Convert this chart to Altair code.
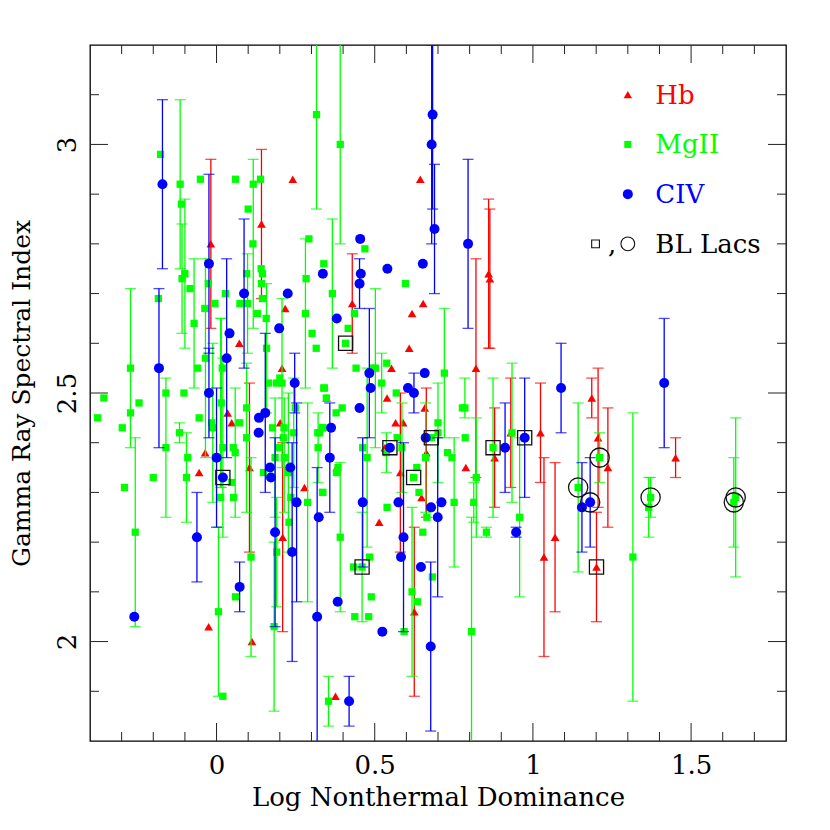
import altair as alt
import pandas as pd

FONT = "DejaVu Serif"
RED, GREEN, BLUE = "#ff0000", "#00ff00", "#0000ff"

red_x = [-.018,.142,.241,.072,.217,.207,.035,.048,-.036,-.055,.104,.201,.209,.278,-.025,.112,.644,.429,.86,.864,.618,.653,.609,.553,.82,.539,.566,.59,.658,.663,.581,.532,.648,.514,.625,.376,.348,.788,.879,.93,1.024,1.035,.38,1.07,1.186,1.206,1.237,1.201,1.451]
red_y = [2.80,2.84,2.93,2.60,2.67,2.55,2.46,2.44,2.38,2.34,2.35,2.44,2.21,2.31,2.03,2.00,2.93,2.68,2.74,2.73,2.66,2.68,2.59,2.55,2.55,2.49,2.44,2.44,2.47,2.38,2.34,2.39,2.29,2.24,2.06,1.89,2.49,2.35,2.37,2.42,2.42,2.17,2.35,2.21,2.49,2.41,2.35,2.15,2.37]
red_bx = [-.018,.142,.104,.209,.429,.86,.864,.82,.663,.581,.625,.879,.93,1.024,1.035,1.07,1.186,1.206,1.237,1.201,1.451]
red_hi = [2.97,2.99,2.52,2.40,2.78,2.89,2.87,2.77,2.51,2.50,2.23,2.47,2.53,2.52,2.37,2.36,2.53,2.55,2.47,2.26,2.41]
red_lo = [2.63,2.69,2.18,2.02,2.58,2.59,2.59,2.33,2.25,2.18,1.89,2.27,2.31,2.32,1.97,2.06,2.45,2.27,2.23,2.04,2.33]

green_x = [.316,-.177,-.115,-.051,.06,.139,.116,-.1,-.109,-.111,.1,.115,.292,.283,.281,.141,.145,.142,.095,.098,.074,-.005,-.037,-.035,-.026,-.084,.028,-.184,-.071,.129,.158,.157,.145,.302,.315,-.06,-.272,.018,-.16,-.16,-.103,.165,.19,.2,.207,.339,.339,
  -.356,-.245,-.272,-.376,-.298,-.117,-.055,.015,-.015,-.013,.073,.095,.095,.02,.053,.059,-.091,-.095,-.2,-.291,-.257,.013,.054,.048,.006,.02,.06,.109,.19,.182,.177,.213,.244,.211,.197,.185,.214,.148,.227,.229,.235,.288,.321,.326,.336,.336,.249,
  .391,.469,.366,.597,.436,.416,.408,.441,.502,.494,.538,.522,.568,.72,.341,.347,.378,.397,.335,.32,.384,.379,.335,.391,.354,.462,.476,.539,.537,.571,.586,.633,.623,.64,.652,.665,.661,.7,.7,.679,.751,.73,.744,.777,.785,.786,.821,.813,.806,.853,.874,.934,.958,.46,.433,.484,.489,.437,.481,.593,.618,.635,.682,
  1.143,1.211,1.316,1.372,1.366,1.641,1.635]
green_y = [3.06,2.98,2.92,2.93,2.93,2.93,2.92,2.74,2.73,2.88,2.87,2.80,2.81,2.73,2.66,2.75,2.74,2.72,2.74,2.68,2.68,2.68,2.67,2.57,2.72,2.71,2.70,2.69,2.64,2.66,2.59,2.65,2.69,2.62,2.59,2.55,2.55,2.55,2.50,2.39,2.50,2.52,2.52,2.53,2.52,2.51,2.76,
  2.49,2.48,2.46,2.45,2.43,2.42,2.45,2.48,2.44,2.43,2.44,2.47,2.41,2.39,2.39,2.38,2.37,2.33,2.33,2.31,2.22,2.29,2.29,2.32,2.06,1.89,2.09,2.17,2.18,2.03,2.43,2.43,2.42,2.41,2.39,2.37,2.37,2.34,2.34,2.24,2.29,2.28,2.39,2.42,2.43,2.30,2.47,
  3.00,2.79,2.70,2.72,2.66,2.63,2.60,2.55,2.55,2.55,2.56,2.52,2.50,2.54,2.51,2.49,2.46,2.47,2.43,2.42,2.35,2.34,2.30,2.21,1.88,2.39,2.37,2.27,2.38,2.41,2.39,2.35,2.33,2.30,2.22,2.25,2.37,2.42,2.44,2.41,2.28,2.38,2.37,2.47,2.47,2.41,2.33,2.28,2.02,2.22,2.39,2.42,2.25,2.15,2.15,2.17,2.09,2.05,2.05,2.02,2.10,2.08,2.13,
  2.31,2.37,2.17,2.29,2.27,2.29,2.28]
green_bx = [.316,-.115,.116,-.1,-.109,.281,.098,-.035,-.071,.158,-.272,-.16,.207,.013,
  -.117,.015,.02,.059,.095,-.095,-.257,.006,.109,.19,.182,.185,.214,.227,.244,.288,.321,-.012,
  .391,.366,.502,.522,.72,.391,.354,.476,.537,.586,.661,.7,.751,.785,.821,.813,.806,.853,.874,.934,.958,.46,.618,
  1.143,1.211,1.316,1.372,1.366,1.641,1.635]
green_hi = [3.25,3.09,2.97,2.89,2.84,2.81,2.78,2.77,2.77,2.72,2.71,2.53,2.69,2.65,
  2.44,2.65,2.57,2.51,2.56,2.42,2.41,2.23,2.37,2.29,2.20,2.49,2.49,2.50,2.53,2.48,2.46,2.60,
  3.25,2.85,2.71,2.58,2.67,2.36,1.93,2.55,2.42,2.48,2.48,2.52,2.41,2.53,2.45,2.32,2.25,2.23,2.53,2.56,2.41,2.26,2.27,
  2.48,2.42,2.46,2.33,2.33,2.45,2.37]
green_lo = [2.87,2.75,2.63,2.59,2.62,2.51,2.58,2.37,2.51,2.46,2.39,2.25,2.35,2.31,
  2.40,2.31,2.21,2.25,2.26,2.24,2.03,1.89,1.97,2.07,1.86,2.25,2.26,2.18,2.31,2.08,2.32,2.28,
  2.80,2.55,2.39,2.46,2.41,2.06,1.83,2.19,2.34,2.30,2.26,2.32,2.15,2.45,2.21,2.24,1.79,2.21,2.25,2.28,2.09,2.04,1.93,
  2.14,2.32,1.88,2.25,2.21,2.13,2.19]

blue_x = [-.171,-.182,-.024,.087,.032,.041,-.024,.225,.198,.154,.247,.253,.336,0,.02,-.062,.073,-.26,.134,.133,.169,.172,.185,.239,.233,.323,.318,
  .683,.68,.689,.795,.454,.456,.452,.54,.652,.38,.483,.487,.658,.605,.624,.452,.362,.358,.383,.419,.462,.524,.575,.548,.591,.583,.646,.678,.711,.699,.661,.677,.912,.974,.947,1.089,1.415,1.155,1.181]
blue_y = [2.92,2.55,2.76,2.70,2.57,2.62,2.50,2.70,2.63,2.46,2.52,2.28,2.74,2.37,2.33,2.21,2.11,2.05,2.45,2.42,2.35,2.33,2.22,2.18,2.35,2.25,2.05,
  3.06,3.00,2.83,2.80,2.81,2.74,2.72,2.75,2.76,2.65,2.54,2.51,2.54,2.51,2.50,2.47,2.43,2.37,2.08,1.88,2.28,2.02,2.28,2.39,2.21,2.17,2.15,2.27,2.28,2.25,2.41,1.99,2.39,2.41,2.22,2.51,2.52,2.27,2.28]
blue_bx = [-.171,-.182,-.024,.087,.032,-.024,.154,.247,.253,0,-.062,.073,.185,.239,.318,
  .683,.68,.689,.795,.452,.483,.624,.358,.419,.462,.591,.699,.677,.912,.974,.947,1.089,1.415,1.155,1.181]
blue_hi = [3.09,2.71,2.94,2.85,2.77,2.59,2.62,2.58,2.48,2.51,2.30,2.16,2.41,2.40,2.35,
  3.25,3.20,2.96,2.97,2.77,2.67,2.54,2.48,1.93,2.41,2.40,2.41,2.16,2.48,2.53,2.23,2.60,2.65,2.36,2.37]
blue_lo = [2.75,2.39,2.58,2.55,2.37,2.41,2.30,2.46,2.08,2.23,2.12,2.06,2.03,1.96,1.75,
  2.87,2.80,2.70,2.63,2.67,2.41,2.46,2.26,1.83,2.15,2.02,2.09,1.82,2.30,2.29,2.21,2.42,2.39,2.18,2.19]

square_x = [.02,.408,.548,.623,.679,.874,.974,.46,1.201]
square_y = [2.33,2.60,2.39,2.33,2.41,2.39,2.41,2.15,2.15]
circle_x = [1.143,1.181,1.211,1.372,1.635,1.641]
circle_y = [2.31,2.28,2.37,2.29,2.28,2.29]

legend_marks_x = [1.30, 1.30, 1.30]
legend_marks_y = [3.10, 3.00, 2.90]
legend_labels = ["Hb", "MgII", "CIV", "BL Lacs"]
legend_colors = [RED, GREEN, BLUE, "#000000"]
legend_text_x = [1.387, 1.387, 1.387, 1.387]
legend_text_y = [3.10, 3.00, 2.90, 2.80]

x_major = [0, 0.5, 1, 1.5]
x_minor = [-.3,-.2,-.1,.1,.2,.3,.4,.6,.7,.8,.9,1.1,1.2,1.3,1.4,1.6,1.7]
y_major = [2, 2.5, 3]
y_minor = [1.9,2.1,2.2,2.3,2.4,2.6,2.7,2.8,2.9,3.1]

PW, PH = 696, 696
FS = 26
xs = alt.Scale(domain=[-0.4, 1.8], nice=False, zero=False)
ys = alt.Scale(domain=[1.8, 3.2], nice=False, zero=False)

xaxis = alt.Axis(
    values=x_major, format="~g", ticks=False, domain=False, grid=False,
    labelFont=FONT, labelFontSize=FS, labelColor="#000", labelPadding=11,
    title="Log Nonthermal Dominance", titleFont=FONT, titleFontSize=FS,
    titleFontWeight="normal", titleColor="#000", titlePadding=6)
yaxis = alt.Axis(
    values=y_major, format="~g", ticks=False, domain=False, grid=False,
    labelFont=FONT, labelFontSize=FS, labelColor="#000", labelPadding=23,
    labelAngle=270, labelBaseline="middle", labelAlign="center",
    title="Gamma Ray Spectral Index", titleFont=FONT, titleFontSize=25,
    titleFontWeight="normal", titleColor="#000", titlePadding=20)
Xn = alt.X("x:Q", scale=xs, axis=xaxis)
Yn = alt.Y("y:Q", scale=ys, axis=yaxis)
Yhi = alt.Y("hi:Q", scale=ys, axis=yaxis)
Ylo = alt.Y("lo:Q", scale=ys, axis=yaxis)


def series(px, py, bx, hi, lo, color, shape, size):
    pts = pd.DataFrame({"x": px, "y": py})
    bars = pd.DataFrame({"x": bx, "hi": hi, "lo": lo})
    rule = alt.Chart(bars).mark_rule(color=color, strokeWidth=1.3, clip=True).encode(
        x=Xn, y=Yhi, y2="lo:Q")
    cap_hi = alt.Chart(bars).mark_tick(color=color, orient="horizontal", size=11, thickness=1.3, clip=True).encode(
        x=Xn, y=Yhi)
    cap_lo = alt.Chart(bars).mark_tick(color=color, orient="horizontal", size=11, thickness=1.3, clip=True).encode(
        x=Xn, y=Ylo)
    marks = alt.Chart(pts).mark_point(color=color, fill=color, filled=True, opacity=1, shape=shape, size=size, clip=True).encode(x=Xn, y=Yn)
    return [rule, cap_hi, cap_lo, marks]


def ticks():
    out = []
    for vals, ln in ((x_major, 18), (x_minor, 9)):
        d = pd.DataFrame({"x": vals})
        for y0, y1 in ((PH, PH - ln), (0, ln)):
            out.append(alt.Chart(d).mark_rule(color="#222", strokeWidth=1).encode(
                x=Xn, y=alt.value(y0), y2=alt.value(y1)))
    for vals, ln in ((y_major, 18), (y_minor, 9)):
        d = pd.DataFrame({"y": vals})
        for x0, x1 in ((0, ln), (PW, PW - ln)):
            out.append(alt.Chart(d).mark_rule(color="#222", strokeWidth=1).encode(
                y=Yn, x=alt.value(x0), x2=alt.value(x1)))
    return out


layers = []
layers += series(red_x, red_y, red_bx, red_hi, red_lo, RED, "triangle-up", 75)
layers += series(green_x, green_y, green_bx, green_hi, green_lo, GREEN, "square", 53)
layers += series(blue_x, blue_y, blue_bx, blue_hi, blue_lo, BLUE, "circle", 100)

layers.append(alt.Chart(pd.DataFrame({"x": square_x, "y": square_y})).mark_point(
    shape="square", size=200, color="#111", strokeWidth=1.3, fill=None, opacity=1, clip=True).encode(x=Xn, y=Yn))
layers.append(alt.Chart(pd.DataFrame({"x": circle_x, "y": circle_y})).mark_point(
    shape="circle", size=370, color="#111", strokeWidth=1.3, fill=None, opacity=1, clip=True).encode(x=Xn, y=Yn))

# legend
for i, (shape, size, color) in enumerate(((("triangle-up"), 70, RED), ("square", 50, GREEN), ("circle", 100, BLUE))):
    layers.append(alt.Chart(pd.DataFrame({"x": [legend_marks_x[i]], "y": [legend_marks_y[i]]})).mark_point(
        shape=shape, size=size, color=color, fill=color, filled=True, opacity=1).encode(x=Xn, y=Yn))
layers.append(alt.Chart(pd.DataFrame({"x": [1.198], "y": [2.80]})).mark_point(
    shape="square", size=60, color="#111", strokeWidth=1.1, fill=None, opacity=1).encode(x=Xn, y=Yn))
layers.append(alt.Chart(pd.DataFrame({"x": [1.30], "y": [2.80]})).mark_point(
    shape="circle", size=190, color="#111", strokeWidth=1.1, fill=None, opacity=1).encode(x=Xn, y=Yn))
layers.append(alt.Chart(pd.DataFrame({"x": [1.25], "y": [2.80], "t": [","]})).mark_text(
    font=FONT, fontSize=FS, color="#000", baseline="middle", dy=1).encode(x=Xn, y=Yn, text="t:N"))
leg = pd.DataFrame({"x": legend_text_x, "y": legend_text_y, "t": legend_labels, "c": legend_colors})
layers.append(alt.Chart(leg).mark_text(font=FONT, fontSize=FS, align="left", baseline="middle", dy=1).encode(
    x=Xn, y=Yn, text="t:N", color=alt.Color("c:N", scale=None, legend=None)))

layers += ticks()

chart = alt.layer(*layers).properties(
    width=PW, height=PH,
    autosize=alt.AutoSizeParams(type="none"),
    padding={"left": 82, "top": 37, "right": 30, "bottom": 78},
).configure_view(stroke="#000", strokeWidth=1.3)

chart.save("out.html", embed_options={"renderer": "svg", "actions": False})
